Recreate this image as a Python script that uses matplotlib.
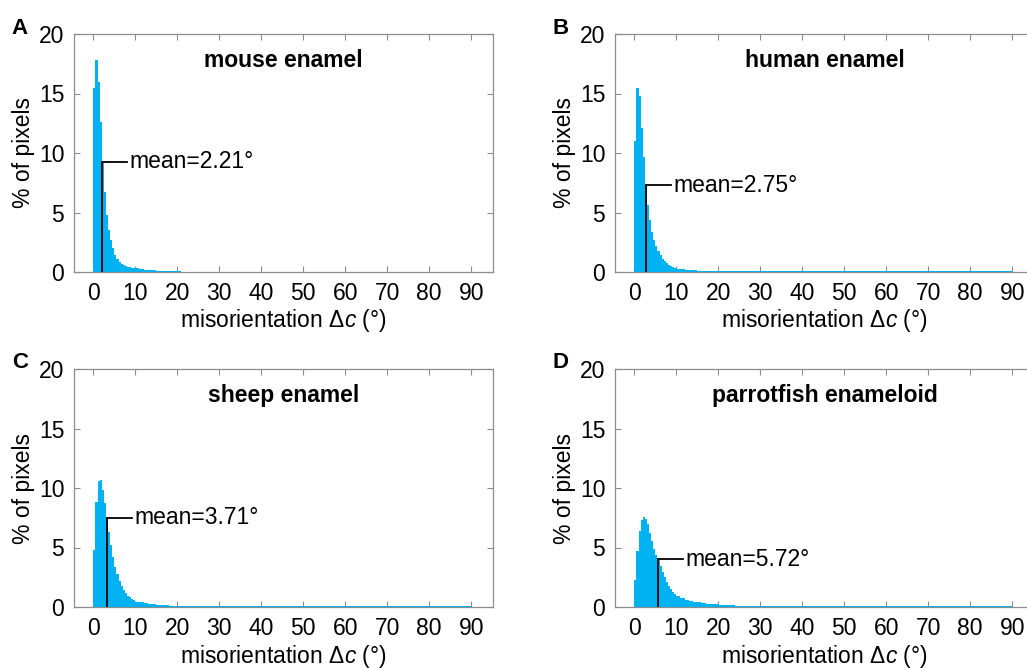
import numpy as np
import matplotlib
matplotlib.use("Agg")
import matplotlib.pyplot as plt

plt.rcParams['font.family'] = ['Liberation Sans', 'DejaVu Sans']
plt.rcParams['mathtext.fontset'] = 'custom'
plt.rcParams['mathtext.rm'] = 'Liberation Sans'
plt.rcParams['mathtext.it'] = 'Liberation Sans:italic'

# Histogram data, % of pixels
# head: 0.5 deg bins from 0 to 10 deg
# mid: 1 deg steps from 10 to 30 deg (each covers two 0.5 deg bins)
# far: 10 deg steps from 30 to 90 deg
titles = ['mouse enamel', 'human enamel', 'sheep enamel', 'parrotfish enameloid']
letters = ['A', 'B', 'C', 'D']
mean_labels = ['2.21', '2.75', '3.71', '5.72']
mean_pos = [2.1, 2.7, 3.3, 5.7]   # where the mean marker sits in the picture

head_mouse = [15.5, 17.8, 16.0, 12.6, 9.25, 6.7, 4.8, 3.55, 2.7, 2.0,
              1.45, 1.1, 0.85, 0.68, 0.57, 0.5, 0.44, 0.4, 0.37, 0.35]
head_human = [11.0, 15.5, 14.8, 12.1, 9.65, 7.3, 5.6, 4.4, 3.4, 2.7,
              2.15, 1.73, 1.4, 1.12, 0.9, 0.73, 0.6, 0.48, 0.4, 0.34]
head_sheep = [4.8, 8.8, 10.6, 10.7, 9.8, 8.7, 7.5, 6.3, 5.2, 4.2,
              3.4, 2.75, 2.2, 1.8, 1.45, 1.15, 0.95, 0.8, 0.65, 0.55]
head_parrot = [2.3, 4.7, 6.4, 7.35, 7.6, 7.4, 6.95, 6.25, 5.55, 4.85,
               4.4, 4.0, 3.45, 2.9, 2.5, 2.1, 1.8, 1.5, 1.28, 1.09]

mid_mouse = [0.3, 0.25, 0.2, 0.17, 0.14, 0.12, 0.1, 0.08, 0.07, 0.06,
             0.05, 0.04, 0.03, 0.03, 0.02, 0.02, 0.02, 0.01, 0.01, 0.01]
mid_human = [0.28, 0.24, 0.2, 0.17, 0.14, 0.12, 0.1, 0.09, 0.08, 0.07,
             0.065, 0.06, 0.06, 0.055, 0.055, 0.05, 0.05, 0.05, 0.05, 0.05]
mid_sheep = [0.45, 0.38, 0.32, 0.27, 0.23, 0.2, 0.17, 0.14, 0.12, 0.1,
             0.09, 0.08, 0.07, 0.06, 0.06, 0.05, 0.05, 0.05, 0.05, 0.05]
mid_parrot = [0.9, 0.75, 0.62, 0.52, 0.45, 0.38, 0.33, 0.29, 0.26, 0.23,
              0.2, 0.18, 0.16, 0.14, 0.12, 0.11, 0.1, 0.09, 0.08, 0.08]

far_mouse = [0.0, 0.0, 0.0, 0.0, 0.0, 0.0]
far_human = [0.05, 0.05, 0.05, 0.05, 0.05, 0.05]
far_sheep = [0.05, 0.05, 0.05, 0.05, 0.05, 0.05]
far_parrot = [0.07, 0.06, 0.06, 0.06, 0.06, 0.06]

heads = [head_mouse, head_human, head_sheep, head_parrot]
mids = [mid_mouse, mid_human, mid_sheep, mid_parrot]
fars = [far_mouse, far_human, far_sheep, far_parrot]

bin_w = 0.5
edges = np.arange(0, 90, bin_w)
blue = '#00b2f2'
gray = '#8c8c8c'
fs = 16.5

fig = plt.figure(figsize=(10.27, 6.68), dpi=100)
W, H = 1027, 668
positions = [(74, 34), (615, 34), (74, 369), (615, 369)]
ax_w, ax_h = 419, 238

for i in range(4):
    left, top = positions[i]
    ax = fig.add_axes([left / W, 1 - (top + ax_h) / H, ax_w / W, ax_h / H])
    vals = np.concatenate([heads[i], np.repeat(mids[i], 2), np.repeat(fars[i], 20)])
    ax.bar(edges, vals, width=bin_w, align='edge', color=blue, linewidth=0, zorder=3)

    # mean marker
    m = mean_pos[i]
    h = vals[int(m // bin_w)]
    ax.plot([m, m], [0, h], color='black', lw=1.3, zorder=4)
    ax.plot([m, m + 6], [h, h], color='black', lw=1.3, zorder=4)
    ax.text(m + 6.5, h, 'mean=' + mean_labels[i] + '°', fontsize=fs,
            va='center', ha='left')

    ax.set_xlim(-4.6, 95.2)
    ax.set_ylim(0, 20)
    ax.set_xticks(np.arange(0, 91, 10))
    ax.set_yticks([0, 5, 10, 15, 20])
    ax.tick_params(direction='in', length=4, width=0.8, colors=gray,
                   labelcolor='black', labelsize=fs, top=True, right=True, pad=7)
    for s in ax.spines.values():
        s.set_color(gray)
        s.set_linewidth(0.9)
    ax.set_xlabel(r'misorientation $\mathit{\Delta c}$ (°)', fontsize=fs, labelpad=2)
    ax.set_ylabel('% of pixels', fontsize=fs, labelpad=3)
    ax.text(0.5, 0.89, titles[i], transform=ax.transAxes, ha='center',
            va='center', fontsize=fs, fontweight='bold')
    fig.text((left - 54) / W, 1 - (top - 6) / H, letters[i], fontsize=16,
             fontweight='bold', ha='center', va='center')

fig.savefig('out.png', dpi=100)
